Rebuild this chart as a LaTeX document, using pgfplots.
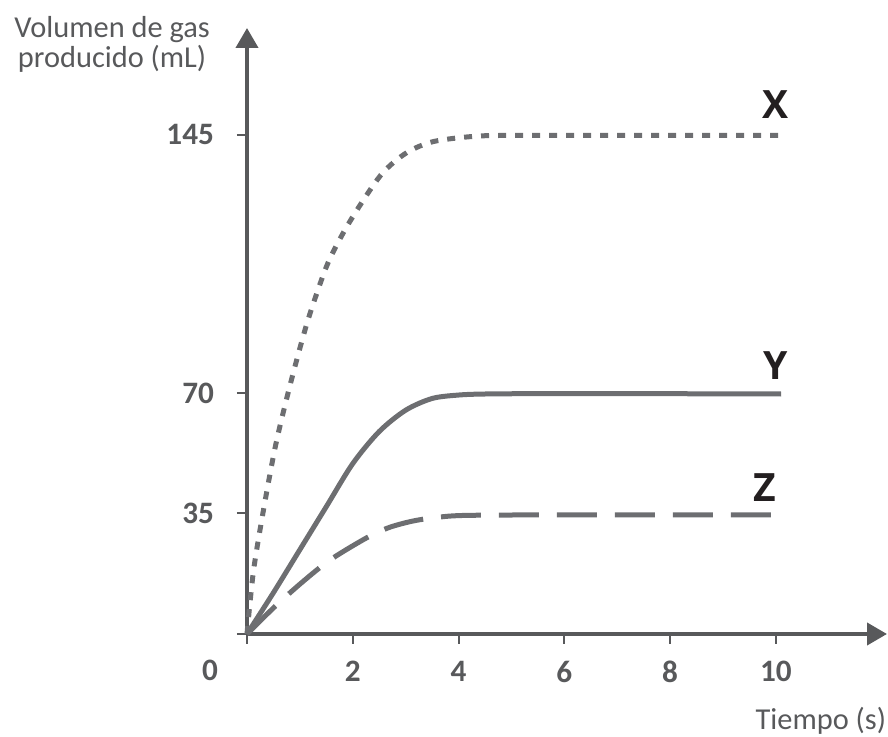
\documentclass[border=0pt]{standalone}
\usepackage{pgfplots}
\pgfplotsset{compat=1.18}
\usepackage{fontspec}
\setmainfont{Carlito}
\newfontfamily\letterfont{Open Sans}
\usetikzlibrary{arrows.meta}
\definecolor{axiscol}{HTML}{58595B}
\definecolor{curvecol}{HTML}{6D6E71}
\definecolor{lettercol}{HTML}{231F20}

% curve readings (time in s, volume in mL)
\pgfplotstableread{
t v
0 0
0.12 18
0.3 35
0.53 54
0.76 69
1.0 83
1.19 93
1.51 107
1.82 116.5
2.17 125.3
2.57 134
3.02 139.8
3.52 143
4.27 144.5
5.0 144.8
7.5 144.8
10.17 144.8
}\curveX
\pgfplotstableread{
t v
0 0
0.5 12
1.0 24.5
1.5 37
2.0 49.5
2.5 58.8
3.0 65
3.5 68.4
4.0 69.4
4.5 69.7
5.5 69.8
7.5 69.8
10.1 69.7
}\curveY
\pgfplotstableread{
t v
0 0
0.53 8
1.04 15
1.57 21.5
2.27 28
2.7 31
3.2 33
3.8 34.2
4.4 34.5
6.0 34.6
8.0 34.6
10.0 34.6
}\curveZ

\begin{document}
\begin{tikzpicture}
\useasboundingbox (-123.5pt,-51.5pt) rectangle (320.5pt,317pt);
\begin{axis}[
  at={(0,0)}, anchor=south west,
  scale only axis,
  width=320pt, height=303pt,
  xmin=0, xmax=12.1, ymin=0, ymax=176,
  axis lines=left,
  axis line style={line width=2pt, color=axiscol, -{Triangle[length=10pt,width=11pt]}},
  tick align=outside,
  major tick length=5pt,
  tick style={line width=1pt, color=axiscol},
  xtick={0,2,4,6,8,10},
  xticklabels={,2,4,6,8,10},
  ytick={0,35,70,145},
  yticklabels={,35,70,145},
  /pgf/number format/assume math mode=true,
  ticklabel style={font=\fontsize{15.6}{16}\selectfont\bfseries, color=axiscol},
  yticklabel style={anchor=east, xshift=-8pt},
  xticklabel style={anchor=north, yshift=-5pt},
  clip=false,
]
\addplot[smooth, line width=2.5pt, color=curvecol, dash pattern=on 4pt off 4.5pt] table[x=t, y=v] {\curveX};
\addplot[smooth, line width=2.5pt, color=curvecol] table[x=t, y=v] {\curveY};
\addplot[smooth, line width=2.5pt, color=curvecol, dash pattern=on 20pt off 9pt] table[x=t, y=v] {\curveZ};

\node[font=\fontsize{15.6}{16}\selectfont\bfseries, color=axiscol] at (axis cs:-0.7,-10.5) {0};
\node[font=\fontsize{15.2}{15}\selectfont, color=axiscol, align=center] at (axis cs:-2.55,171.2) {Volumen de gas\\producido (mL)};
\node[font=\fontsize{15.2}{15}\selectfont, color=axiscol] at (axis cs:10.85,-25.3) {Tiempo (s)};
\node[font=\fontsize{19.5}{20}\letterfont\bfseries, color=lettercol] at (axis cs:10.0,153.7) {X};
\node[font=\fontsize{19.5}{20}\letterfont\bfseries, color=lettercol] at (axis cs:10.0,77.9) {Y};
\node[font=\fontsize{19.5}{20}\letterfont\bfseries, color=lettercol] at (axis cs:9.79,42.4) {Z};
\end{axis}
\end{tikzpicture}
\end{document}
